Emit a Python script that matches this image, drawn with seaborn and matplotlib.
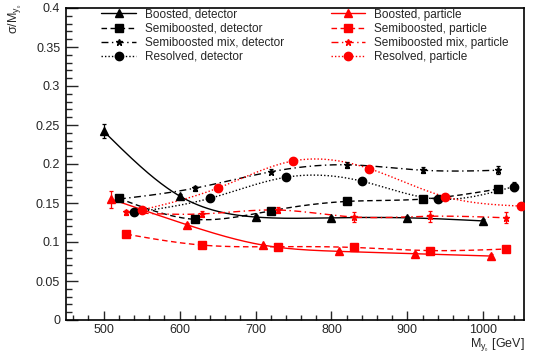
import numpy as np
import pandas as pd
import matplotlib
matplotlib.use("Agg")
import matplotlib.pyplot as plt
from matplotlib.lines import Line2D
from matplotlib.ticker import MultipleLocator
import seaborn as sns

# Resolution sigma/M for each reconstruction category, detector and particle level
mass_boosted_det = [500, 600, 700, 800, 900, 1000]
res_boosted_det = [0.242, 0.159, 0.132, 0.131, 0.131, 0.127]
err_boosted_det = [0.009, 0.003, 0.002, 0.002, 0.002, 0.002]

mass_boosted_part = [510, 610, 710, 810, 910, 1010]
res_boosted_part = [0.155, 0.122, 0.096, 0.088, 0.085, 0.082]
err_boosted_part = [0.011, 0.003, 0.002, 0.002, 0.002, 0.002]

mass_semi_det = [520, 620, 720, 820, 920, 1020]
res_semi_det = [0.156, 0.129, 0.140, 0.152, 0.155, 0.168]
err_semi_det = [0.002, 0.002, 0.002, 0.002, 0.002, 0.003]

mass_semi_part = [530, 630, 730, 830, 930, 1030]
res_semi_part = [0.110, 0.096, 0.094, 0.093, 0.089, 0.091]
err_semi_part = [0.002, 0.002, 0.002, 0.002, 0.002, 0.003]

mass_mix_det = [520, 620, 720, 820, 920, 1020]
res_mix_det = [0.155, 0.169, 0.190, 0.199, 0.192, 0.192]
err_mix_det = [0.003, 0.003, 0.003, 0.004, 0.004, 0.005]

mass_mix_part = [530, 630, 730, 830, 930, 1030]
res_mix_part = [0.138, 0.136, 0.141, 0.132, 0.133, 0.131]
err_mix_part = [0.003, 0.004, 0.004, 0.006, 0.007, 0.007]

mass_res_det = [540, 640, 740, 840, 940, 1040]
res_res_det = [0.138, 0.156, 0.183, 0.178, 0.155, 0.171]
err_res_det = [0.003, 0.003, 0.003, 0.004, 0.004, 0.006]

mass_res_part = [550, 650, 750, 850, 950, 1050]
res_res_part = [0.141, 0.169, 0.204, 0.194, 0.158, 0.146]
err_res_part = [0.003, 0.003, 0.004, 0.004, 0.004, 0.004]

series = [
    ("Boosted, detector", mass_boosted_det, res_boosted_det, err_boosted_det, "black", "-", "^", 6.0),
    ("Semiboosted, detector", mass_semi_det, res_semi_det, err_semi_det, "black", (0, (4, 2.5)), "s", 5.5),
    ("Semiboosted mix, detector", mass_mix_det, res_mix_det, err_mix_det, "black", (0, (5, 2.5, 1, 2.5)), "*", 5.0),
    ("Resolved, detector", mass_res_det, res_res_det, err_res_det, "black", (0, (1, 1.5)), "o", 6.0),
    ("Boosted, particle", mass_boosted_part, res_boosted_part, err_boosted_part, "red", "-", "^", 6.0),
    ("Semiboosted, particle", mass_semi_part, res_semi_part, err_semi_part, "red", (0, (4, 2.5)), "s", 5.5),
    ("Semiboosted mix, particle", mass_mix_part, res_mix_part, err_mix_part, "red", (0, (5, 2.5, 1, 2.5)), "*", 5.0),
    ("Resolved, particle", mass_res_part, res_res_part, err_res_part, "red", (0, (1, 1.5)), "o", 6.0),
]


def natural_spline(x, y, n=300):
    """Smooth curve through the points (natural cubic spline)."""
    x = np.asarray(x, float)
    y = np.asarray(y, float)
    k = len(x)
    h = np.diff(x)
    A = np.zeros((k, k))
    b = np.zeros(k)
    A[0, 0] = A[-1, -1] = 1.0
    for i in range(1, k - 1):
        A[i, i - 1] = h[i - 1]
        A[i, i] = 2 * (h[i - 1] + h[i])
        A[i, i + 1] = h[i]
        b[i] = 3 * ((y[i + 1] - y[i]) / h[i] - (y[i] - y[i - 1]) / h[i - 1])
    c = np.linalg.solve(A, b)
    xs = np.linspace(x[0], x[-1], n)
    idx = np.clip(np.searchsorted(x, xs) - 1, 0, k - 2)
    dx = xs - x[idx]
    hi = h[idx]
    bb = (y[idx + 1] - y[idx]) / hi - hi * (2 * c[idx] + c[idx + 1]) / 3
    dd = (c[idx + 1] - c[idx]) / (3 * hi)
    ys = y[idx] + bb * dx + c[idx] * dx ** 2 + dd * dx ** 3
    return xs, ys


sns.set_theme(style="ticks")
plt.rcParams["font.family"] = ["Liberation Sans", "DejaVu Sans"]
plt.rcParams["mathtext.fontset"] = "custom"
plt.rcParams["mathtext.rm"] = "Liberation Sans"
plt.rcParams["mathtext.it"] = "Liberation Sans"
plt.rcParams["mathtext.sf"] = "Liberation Sans"

fig = plt.figure(figsize=(5.39, 3.54), dpi=100)
ax = fig.add_axes([65.7 / 539, 1 - 320 / 354, (524.3 - 65.7) / 539, (320 - 8) / 354])

handles = []
for label, xm, ym, em, color, ls, mk, ms in series:
    xs, ys = natural_spline(xm, ym)
    curve = pd.DataFrame({"mass": xs, "res": ys})
    sns.lineplot(data=curve, x="mass", y="res", ax=ax, color=color,
                 linestyle=ls, linewidth=1.0, sort=False, legend=False)
    ax.errorbar(xm, ym, yerr=em, fmt=mk, color=color, markersize=ms,
                elinewidth=0.9, capsize=1.6, capthick=0.9, zorder=3)
    handles.append(Line2D([], [], color=color, linestyle=ls, linewidth=1.0,
                          marker=mk, markersize=ms, label=label))

ax.set_xlim(450, 1054)
ax.set_ylim(0, 0.4)
ax.xaxis.set_major_locator(MultipleLocator(100))
ax.xaxis.set_minor_locator(MultipleLocator(20))
ax.yaxis.set_minor_locator(MultipleLocator(0.01))
ax.set_yticks(np.arange(0, 0.41, 0.05))
ax.set_yticklabels(["0", "0.05", "0.1", "0.15", "0.2", "0.25", "0.3", "0.35", "0.4"])
ax.tick_params(axis="x", which="major", direction="in", length=6.7, width=1.0,
               labelsize=9, pad=3, top=False)
ax.tick_params(axis="x", which="minor", direction="in", length=3.6, width=1.0, top=False)
ax.tick_params(axis="y", which="major", direction="in", length=8.6, width=1.0,
               labelsize=9, pad=4, right=False)
ax.tick_params(axis="y", which="minor", direction="in", length=4.3, width=1.0, right=False)
for sp in ax.spines.values():
    sp.set_visible(True)
    sp.set_linewidth(1.2)
    sp.set_color("black")

ax.set_xlabel(r"M$_{y_{_0}}$ [GeV]", fontsize=9, loc="right")
ax.set_ylabel(r"$\sigma$/M$_{y_{_0}}$", fontsize=9, loc="top")
ax.xaxis.set_label_coords(1.0, -0.052)
ax.yaxis.set_label_coords(-0.092, 1.015)

leg_kw = dict(frameon=False, fontsize=8.5, handlelength=2.9, handletextpad=0.8,
              labelspacing=0.18, borderaxespad=0.0, borderpad=0.0)
leg1 = ax.legend(handles=handles[:4], loc="upper left", bbox_to_anchor=(0.078, 0.998), **leg_kw)
ax.add_artist(leg1)
ax.legend(handles=handles[4:], loc="upper left", bbox_to_anchor=(0.578, 0.998), **leg_kw)

fig.savefig("out.png", dpi=100)
